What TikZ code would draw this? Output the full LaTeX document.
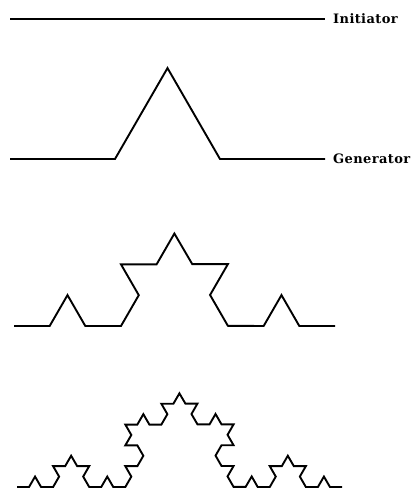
\documentclass[tikz,border=0pt]{standalone}
\usepackage{fontspec}
\newfontfamily\tagfont[LetterSpace=3]{DejaVu Serif}
\usetikzlibrary{decorations.fractals}
\tikzset{
    curve/.style={draw=black,line width=1.9pt,line join=miter},
    koch/.style={decoration={Koch snowflake}},
    tag/.style={font=\tagfont\bfseries\fontsize{13}{15}\selectfont,
        anchor=west,inner sep=0pt,text=black}
}
\begin{document}
\begin{tikzpicture}[x=1pt,y=-1pt]
    \useasboundingbox (0,0) rectangle (419,491);

    % initiator
    \coordinate (i0) at (10,19);
    \coordinate (i1) at (325,19);
    \draw[curve] (i0) -- (i1);
    \node[tag] (initTag) at (333,18.5) {Initiator};

    % generator
    \coordinate (g0) at (10,159);
    \coordinate (g1) at (325,159);
    \draw[curve,koch] decorate{ (g0) -- (g1) };
    \node[tag] (genTag) at (333,158.5) {Generator};

    % second step
    \coordinate (s0) at (14,326);
    \coordinate (s1) at (335,326);
    \draw[curve,koch] decorate{ decorate{ (s0) -- (s1) } };

    % third step
    \coordinate (t0) at (17,487);
    \coordinate (t1) at (342,487);
    \draw[curve,koch] decorate{ decorate{ decorate{ (t0) -- (t1) } } };
\end{tikzpicture}
\end{document}
